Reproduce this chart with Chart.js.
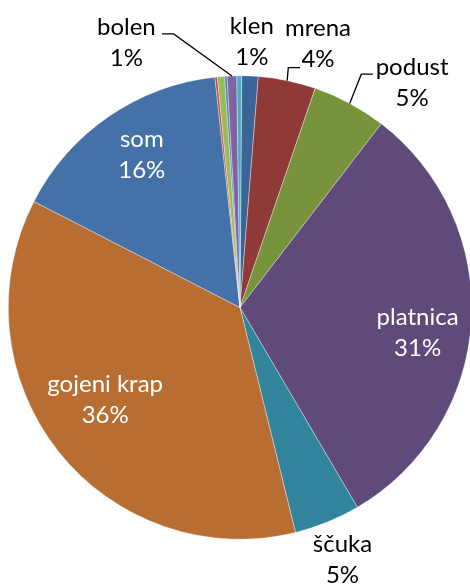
<!DOCTYPE html>
<html>
<head>
<meta charset="utf-8">
<script src="https://cdn.jsdelivr.net/npm/chart.js@4"></script>
<style>
  html, body { margin: 0; padding: 0; background: #fff; overflow: hidden; }
  #wrap { width: 480px; height: 587px; }
</style>
</head>
<body>
<div id="wrap"><canvas id="c" width="480" height="587"></canvas></div>
<script>
// ---- data (clockwise from 12 o'clock) ----
const categories = ['klen', 'mrena', 'podust', 'platnica', 'ščuka', 'gojeni krap', 'som', '', '', '', 'bolen', ''];
const shares     = [1.15, 4.0, 5.17, 31.1, 4.6, 36.4, 15.7, 0.17, 0.5, 0.17, 0.67, 0.33];
const shownPct   = ['1%', '4%', '5%', '31%', '5%', '36%', '16%', '', '', '', '1%', ''];
const sliceColors = ['#3A6596', '#8F3A38', '#77933C', '#5F4A7A', '#31849B', '#B86E32',
                     '#4571A9', '#C0504D', '#9BBB59', '#4F81BD', '#8064A2', '#4BACC6'];

// ---- label layout: radial factor, angle shift (deg), text colour, leader ----
const labelLayout = {
  0:  { k: 1.115, dAng: 0.15, color: '#000' },
  1:  { k: 1.155, dAng: 5.2,  color: '#000', elbow: [-29.7, 16.1], end: [-18, 16.1] },
  2:  { k: 1.197, dAng: 10.1, color: '#000', elbow: [-50.8, -15.8], end: [-39.2, -15.8] },
  3:  { k: 0.78,  dAng: 7.1,  color: '#fff' },
  4:  { k: 1.207, dAng: 0.65, color: '#000' },
  5:  { k: 0.725, dAng: 1.7,  color: '#fff' },
  6:  { k: 0.756, dAng: 0.4,  color: '#fff' },
  10: { k: 1.211, dAng: -21.9, color: '#000', elbow: [47.3, -17], end: [35.7, -17] }
};
const fontFamily = 'Lato, "Open Sans", sans-serif';
const fontSize = 24;
const lineGap = 31;

const labelPlugin = {
  id: 'sliceLabels',
  afterDatasetsDraw(chart) {
    const ctx = chart.ctx;
    const meta = chart.getDatasetMeta(0);
    ctx.save();
    ctx.font = fontSize + 'px ' + fontFamily;
    ctx.textAlign = 'center';
    ctx.textBaseline = 'alphabetic';
    Object.keys(labelLayout).forEach(key => {
      const i = +key;
      const L = labelLayout[i];
      const arc = meta.data[i];
      const p = arc.getProps(['x', 'y', 'startAngle', 'endAngle', 'outerRadius'], true);
      const mid = (p.startAngle + p.endAngle) / 2;
      const a = mid + L.dAng * Math.PI / 180;
      const ax = p.x + Math.cos(a) * p.outerRadius * L.k;
      const ay = p.y + Math.sin(a) * p.outerRadius * L.k;
      if (L.elbow) {
        const sx = p.x + Math.cos(mid) * p.outerRadius;
        const sy = p.y + Math.sin(mid) * p.outerRadius;
        ctx.beginPath();
        ctx.strokeStyle = '#000';
        ctx.lineWidth = 1.3;
        ctx.moveTo(sx, sy);
        ctx.lineTo(ax + L.elbow[0], ay + L.elbow[1]);
        ctx.lineTo(ax + L.end[0], ay + L.end[1]);
        ctx.stroke();
      }
      ctx.fillStyle = L.color;
      ctx.fillText(categories[i], ax, ay - lineGap / 2);
      ctx.fillText(shownPct[i], ax, ay + lineGap / 2);
    });
    ctx.restore();
  }
};

new Chart(document.getElementById('c'), {
  type: 'pie',
  data: {
    labels: categories,
    datasets: [{
      data: shares,
      backgroundColor: sliceColors,
      borderColor: 'rgba(255,255,255,0.6)',
      borderWidth: 0.6
    }]
  },
  options: {
    responsive: false,
    animation: false,
    rotation: 0.4,
    layout: { padding: { top: 75, bottom: 47, left: 8, right: 8 } },
    plugins: { legend: { display: false }, tooltip: { enabled: false } }
  },
  plugins: [labelPlugin]
});
</script>
</body>
</html>
